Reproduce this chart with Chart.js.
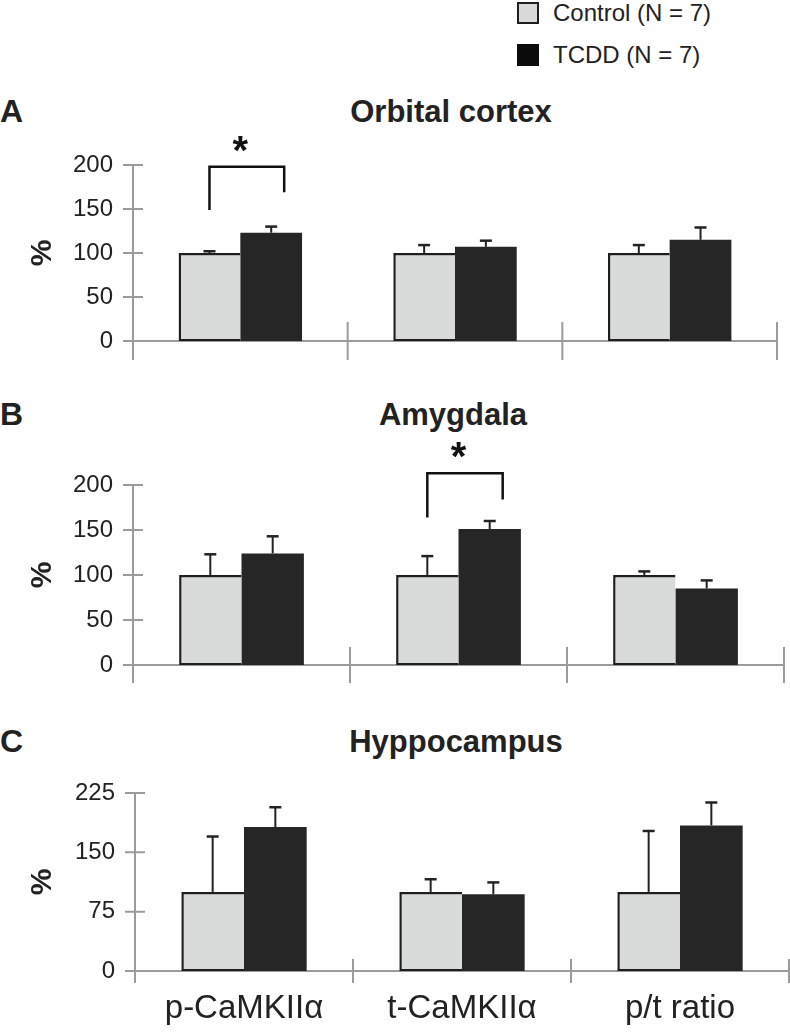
<!DOCTYPE html>
<html>
<head>
<meta charset="utf-8">
<script src="https://cdn.jsdelivr.net/npm/chart.js@4.4.1/dist/chart.umd.min.js"></script>
<style>
  body { margin: 0; background: #fff; width: 790px; height: 1032px; position: relative; overflow: hidden;
         font-family: "Liberation Sans", Arial, sans-serif; color: #222; }
  canvas { position: absolute; left: 0; }
  .txt { position: absolute; line-height: 1; white-space: nowrap; }
  .letter { font-weight: bold; font-size: 32px; left: 0; }
  .title { font-weight: bold; font-size: 31px; transform: translateX(-50%); }
  .legend { font-size: 24px; left: 553px; }
  .box { position: absolute; left: 517px; width: 22px; height: 22px; box-sizing: border-box; }
</style>
</head>
<body>

<div class="box" style="top:2px; background:#d9dbda; border:2px solid #1e1e1e;"></div>
<div class="txt legend" style="top:0.7px;">Control (N = 7)</div>
<div class="box" style="top:44px; background:#0b0b0b;"></div>
<div class="txt legend" style="top:42.7px;">TCDD (N = 7)</div>

<div class="txt letter" style="top:94.9px;">A</div>
<div class="txt title" style="top:95.8px; left:451px;">Orbital cortex</div>
<div class="txt letter" style="top:397.9px;">B</div>
<div class="txt title" style="top:398.8px; left:453px;">Amygdala</div>
<div class="txt letter" style="top:724.9px;">C</div>
<div class="txt title" style="top:725.8px; left:456px;">Hyppocampus</div>

<canvas id="chartA" width="790" height="251" style="top:130px;"></canvas>
<canvas id="chartB" width="790" height="265" style="top:440px;"></canvas>
<canvas id="chartC" width="790" height="277" style="top:755px;"></canvas>

<script>
// categories shared by all three panels
var categories = ['p-CaMKII\u03b1', 't-CaMKII\u03b1', 'p/t ratio'];

// A - orbital cortex
var orbitalControl = [100, 100, 100];
var orbitalControlErr = [2, 9, 9];
var orbitalTcdd = [123, 107, 115];
var orbitalTcddErr = [7, 7, 14];
var orbitalStar = [0, 198, 149, 169]; // category, bracket top, left end, right end

// B - amygdala
var amygdalaControl = [100, 100, 100];
var amygdalaControlErr = [23, 21, 4];
var amygdalaTcdd = [124, 151, 85];
var amygdalaTcddErr = [19, 9, 9];
var amygdalaStar = [1, 213, 164, 184];

// C - hyppocampus
var hippoControl = [100, 100, 100];
var hippoControlErr = [70, 16, 77];
var hippoTcdd = [182, 97, 184];
var hippoTcddErr = [25, 15, 29];

// y axis ticks: [max, step]
var yTicksAB = [200, 50];
var yTicksC = [225, 75];

Chart.defaults.font.family = '"Liberation Sans", Arial, sans-serif';
Chart.defaults.color = '#222';

// axes with crossing ticks, error bars and significance brackets
var panelDecor = {
  id: 'panelDecor',
  beforeDatasetsDraw: function(chart, args, opts) {
    var ctx = chart.ctx, x = chart.scales.x, y = chart.scales.y, area = chart.chartArea;
    var step = x.getPixelForValue(1) - x.getPixelForValue(0);
    ctx.save();
    ctx.strokeStyle = '#9b9b9b';
    ctx.lineWidth = 2;
    ctx.beginPath();
    ctx.moveTo(area.left, y.getPixelForValue(y.max));
    ctx.lineTo(area.left, area.bottom + opts.drop);
    y.ticks.forEach(function(t) {
      var py = y.getPixelForValue(t.value);
      ctx.moveTo(area.left - 10, py);
      ctx.lineTo(area.left + 10, py);
    });
    ctx.moveTo(area.left - 10, area.bottom);
    ctx.lineTo(area.right, area.bottom);
    for (var i = 0; i < categories.length; i++) {
      var px = x.getPixelForValue(i) + step / 2;
      ctx.moveTo(px, area.bottom - opts.drop);
      ctx.lineTo(px, area.bottom + opts.drop);
    }
    ctx.stroke();
    ctx.restore();
  },
  afterDatasetsDraw: function(chart, args, opts) {
    var ctx = chart.ctx, x = chart.scales.x, y = chart.scales.y;
    ctx.save();
    ctx.strokeStyle = '#222';
    chart.data.datasets.forEach(function(ds, di) {
      chart.getDatasetMeta(di).data.forEach(function(bar, i) {
        var top = y.getPixelForValue(ds.data[i] + ds.errors[i]);
        ctx.lineWidth = 2;
        ctx.beginPath();
        ctx.moveTo(bar.x, bar.y);
        ctx.lineTo(bar.x, top);
        ctx.stroke();
        ctx.lineWidth = 2.5;
        ctx.beginPath();
        ctx.moveTo(bar.x - 6, top);
        ctx.lineTo(bar.x + 6, top);
        ctx.stroke();
      });
    });
    if (opts.star) {
      var s = opts.star;
      var lx = chart.getDatasetMeta(0).data[s[0]].x;
      var rx = chart.getDatasetMeta(1).data[s[0]].x + 13;
      var ty = y.getPixelForValue(s[1]);
      ctx.strokeStyle = '#111';
      ctx.lineWidth = 2.5;
      ctx.beginPath();
      ctx.moveTo(lx, y.getPixelForValue(s[2]));
      ctx.lineTo(lx, ty);
      ctx.lineTo(rx, ty);
      ctx.lineTo(rx, y.getPixelForValue(s[3]));
      ctx.stroke();
      ctx.fillStyle = '#111';
      ctx.font = 'bold 40px "Liberation Sans", Arial, sans-serif';
      ctx.textAlign = 'center';
      ctx.textBaseline = 'alphabetic';
      ctx.fillText('*', x.getPixelForValue(s[0]), ty - 3);
    }
    ctx.restore();
  }
};

function makeChart(id, control, controlErr, tcdd, tcddErr, yTicks, star, pad, axisX, drop, showLabels) {
  return new Chart(document.getElementById(id), {
    type: 'bar',
    data: {
      labels: categories,
      datasets: [{
        label: 'Control (N = 7)',
        data: control,
        errors: controlErr,
        backgroundColor: '#d9dbda',
        borderColor: '#1e1e1e',
        borderWidth: { top: 2.5, left: 2.5, right: 0, bottom: 2 },
        borderSkipped: false
      }, {
        label: 'TCDD (N = 7)',
        data: tcdd,
        errors: tcddErr,
        backgroundColor: '#262626',
        borderColor: '#262626',
        borderWidth: 0
      }]
    },
    options: {
      responsive: false,
      animation: false,
      events: [],
      layout: { padding: pad },
      datasets: { bar: { categoryPercentage: 0.575, barPercentage: 1 } },
      plugins: {
        legend: { display: false },
        tooltip: { enabled: false },
        panelDecor: { drop: drop, star: star }
      },
      scales: {
        x: {
          display: showLabels,
          grid: { display: false, drawTicks: false },
          border: { display: false },
          ticks: { font: { size: 33 }, color: '#222', padding: 18, maxRotation: 0 },
          afterFit: function(s) { if (showLabels) s.height = 61; }
        },
        y: {
          min: 0,
          max: yTicks[0],
          ticks: { stepSize: yTicks[1], font: { size: 24 }, color: '#222', padding: 20 },
          grid: { display: false, drawTicks: false },
          border: { display: false },
          title: { display: true, text: '%', font: { size: 30, weight: 'bold' }, color: '#222',
                   padding: { top: 25, bottom: 0 } },
          afterFit: function(s) { s.width = axisX; }
        }
      }
    },
    plugins: [panelDecor]
  });
}

makeChart('chartA', orbitalControl, orbitalControlErr, orbitalTcdd, orbitalTcddErr, yTicksAB,
          orbitalStar, { top: 35, bottom: 40, left: 0, right: 13 }, 133, 19, false);
makeChart('chartB', amygdalaControl, amygdalaControlErr, amygdalaTcdd, amygdalaTcddErr, yTicksAB,
          amygdalaStar, { top: 45, bottom: 40, left: 0, right: 6 }, 133, 18, false);
makeChart('chartC', hippoControl, hippoControlErr, hippoTcdd, hippoTcddErr, yTicksC,
          null, { top: 38, bottom: 0, left: 0, right: 1 }, 135, 12, true);
</script>
</body>
</html>
